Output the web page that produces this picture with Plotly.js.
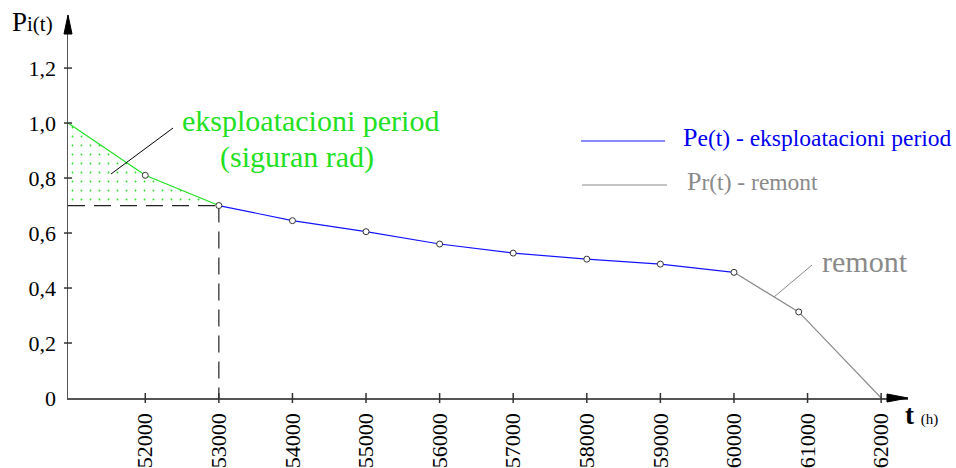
<!DOCTYPE html>
<html>
<head>
<meta charset="utf-8">
<script src="https://cdn.plot.ly/plotly-3.0.1.min.js"></script>
<style>html,body{margin:0;padding:0;background:#fff;}#chart{width:956px;height:468px;}</style>
</head>
<body>
<div id="chart"></div>
<script>
// ---- data ----
const xStart = 50950;
const xEnd = 62365;
const greenX = [xStart, 52000, 53000];
const greenY = [1.0, 0.81, 0.70];
const blueX = [53000, 54000, 55000, 56000, 57000, 58000, 59000, 60000];
const blueY = [0.70, 0.645, 0.605, 0.56, 0.527, 0.505, 0.487, 0.457];
const grayX = [60000, 60880, 62000];
const grayY = [0.457, 0.313, 0.0];
const safeLevel = 0.70;
const safeEnd = 53000;
const xTicks = [52000, 53000, 54000, 55000, 56000, 57000, 58000, 59000, 60000, 61000, 62000];
const yTicks = [0, 0.2, 0.4, 0.6, 0.8, 1.0, 1.2];
const yTickText = ['0', '0,2', '0,4', '0,6', '0,8', '1,0', '1,2'];

// ---- layout helpers (pixel -> paper) ----
const L = 68, R = 48, T = 15, B = 70, W = 956, H = 468;
const PW = W - L - R, PH = H - T - B;
const px = v => (v - L) / PW;
const py = v => (H - B - v) / PH;

const FONT = "Liberation Serif";
const GREEN = '#22e022', BLUE = '#1414ff', GRAY = '#8a8a8a';

const traces = [
  { x: [xStart, safeEnd], y: [safeLevel, safeLevel], mode: 'lines',
    line: { color: '#222', width: 1.2, dash: '17px,9px' }, hoverinfo: 'skip' },
  { x: greenX, y: greenY, mode: 'lines', fill: 'tonexty',
    fillcolor: 'rgba(0,0,0,0)',
    fillpattern: { shape: '.', fgcolor: GREEN, bgcolor: 'rgba(255,255,255,0)', size: 9, solidity: 0.03 },
    line: { color: GREEN, width: 1.2 } },
  { x: [safeEnd, safeEnd], y: [safeLevel, 0], mode: 'lines',
    line: { color: '#222', width: 1.2, dash: '17px,9px' } },
  { x: blueX, y: blueY, mode: 'lines', line: { color: BLUE, width: 1.2 } },
  { x: grayX, y: grayY, mode: 'lines', line: { color: GRAY, width: 1.2 } },
  { x: greenX.slice(1).concat(blueX.slice(1), grayX.slice(1, -1)),
    y: greenY.slice(1).concat(blueY.slice(1), grayY.slice(1, -1)),
    mode: 'markers', marker: { symbol: 'circle', size: 6, color: '#fff', line: { color: '#333', width: 1 } } }
];

const shapes = [];
xTicks.forEach(v => shapes.push({ type: 'line', xref: 'x', yref: 'paper', ysizemode: 'pixel', yanchor: 0,
  x0: v, x1: v, y0: -5, y1: 5, line: { color: '#333', width: 1.5 } }));
yTicks.forEach(v => { if (v > 0) shapes.push({ type: 'line', yref: 'y', xref: 'paper', xsizemode: 'pixel', xanchor: 0,
  y0: v, y1: v, x0: -4, x1: 4, line: { color: '#333', width: 1.5 } }); });
// arrowheads
shapes.push({ type: 'path', xref: 'paper', yref: 'paper', xsizemode: 'pixel', ysizemode: 'pixel', xanchor: 0, yanchor: 1,
  path: 'M0,0 L-4,-19 L4,-19 Z', fillcolor: '#000', line: { color: '#000', width: 1 } });
shapes.push({ type: 'path', xref: 'paper', yref: 'paper', xsizemode: 'pixel', ysizemode: 'pixel', xanchor: 1, yanchor: 0,
  path: 'M0,0 L-21,4 L-21,-4 Z', fillcolor: '#000', line: { color: '#000', width: 1 } });
// leader lines and legend lines
const seg = (x0, y0, x1, y1, c) => ({ type: 'line', xref: 'paper', yref: 'paper',
  x0: px(x0), y0: py(y0), x1: px(x1), y1: py(y1), line: { color: c, width: 1 } });
shapes.push(seg(111, 174, 173, 128, '#000'));
shapes.push(seg(774, 297, 812, 265, GRAY));
shapes.push(seg(581, 141, 665, 141, BLUE));
shapes.push(seg(582, 185, 667, 185, GRAY));

const ann = (text, x, y, size, color, xa) => ({ text, xref: 'paper', yref: 'paper', x: px(x), y: py(y),
  xanchor: xa || 'left', yanchor: 'middle', showarrow: false, font: { family: FONT, size, color } });

const annotations = [
  ann("P<span style='font-size:21px'>i(t)</span>", 10, 22, 27, '#000'),
  ann('eksploatacioni period', 310, 120, 30, GREEN, 'center'),
  ann('(siguran rad)', 297, 157, 30, GREEN, 'center'),
  ann("<span style='font-size:26px'>P</span>e(t) - eksploatacioni period", 681, 137, 23.5, '#0000ee'),
  ann("<span style='font-size:26px'>P</span>r(t) - remont", 685, 182, 23.5, GRAY),
  ann('remont', 820, 261, 30, GRAY),
  ann("<b>t</b> <span style='font-size:15px'>(h)</span>", 903, 415, 27, '#000')
];

const layout = {
  width: W, height: H,
  margin: { l: L, r: R, t: T, b: B, pad: 0 },
  paper_bgcolor: '#fff', plot_bgcolor: '#fff',
  showlegend: false,
  xaxis: { range: [xStart, xEnd], tickvals: xTicks, tickformat: 'd', tickangle: -90,
    showgrid: false, zeroline: false, showline: true, linecolor: '#555', linewidth: 1.5,
    ticks: '', ticklabelstandoff: 5, tickfont: { family: FONT, size: 22, color: '#000' } },
  yaxis: { range: [0, 1.393], tickvals: yTicks, ticktext: yTickText,
    showgrid: false, zeroline: false, showline: true, linecolor: '#555', linewidth: 1.5,
    ticks: '', ticklabelstandoff: 6, tickfont: { family: FONT, size: 22, color: '#000' } },
  shapes, annotations
};

Plotly.newPlot('chart', traces, layout, { staticPlot: true, displayModeBar: false });
</script>
</body>
</html>
